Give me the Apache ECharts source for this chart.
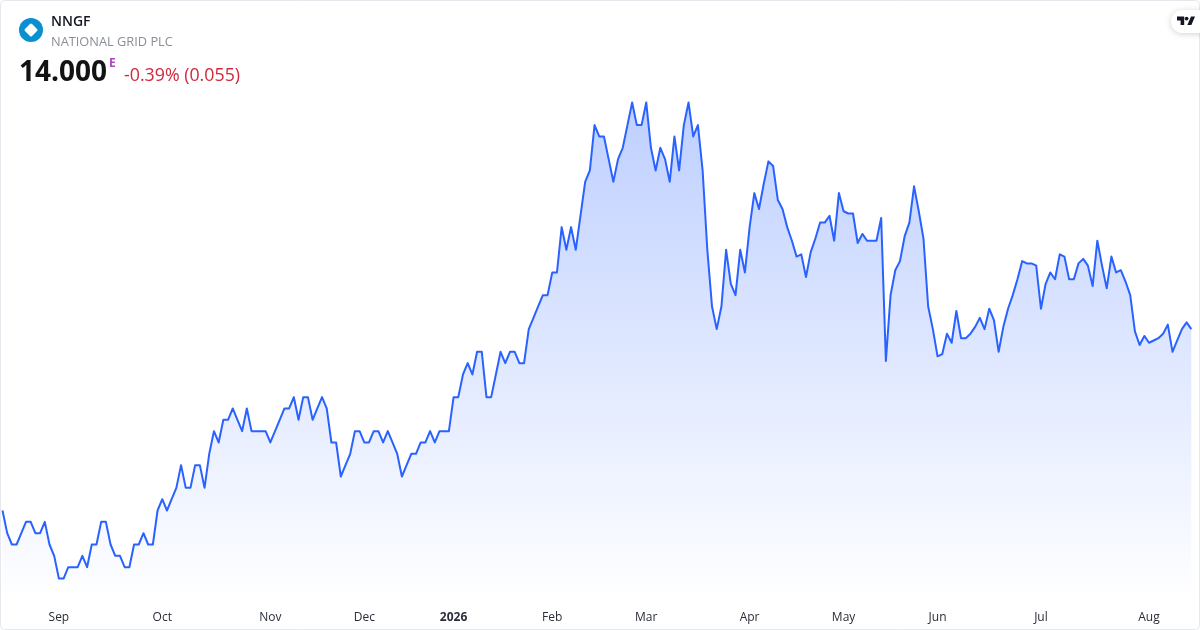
<!DOCTYPE html>
<html>
<head>
<meta charset="utf-8">
<style>html,body{margin:0;padding:0;background:#fff}#c{width:1200px;height:630px}</style>
<script src="https://cdn.jsdelivr.net/npm/echarts@6/dist/echarts.min.js"></script>
</head>
<body>
<div id="c"></div>
<script>
const prices1 = [13.20,13.10,13.05,13.05,13.10,13.15,13.15,13.10,13.10,13.15,13.05,13.00,12.90,12.90,12.95,12.95,12.95,13.00,12.95,13.05,13.05,13.15,13.15,13.05,13.00,13.00,12.95,12.95,13.05,13.05,13.10,13.05,13.05,13.20,13.25,13.20,13.25,13.30,13.40,13.30,13.30,13.40,13.40,13.30,13.45,13.55,13.50,13.60,13.60,13.65,13.60,13.55,13.65,13.55,13.55,13.55,13.55,13.50,13.55,13.60,13.65,13.65,13.70,13.60];
const prices2 = [13.70,13.70,13.60,13.65,13.70,13.65,13.50,13.50,13.35,13.40,13.45,13.55,13.55,13.50,13.50,13.55,13.55,13.50,13.55,13.50,13.45,13.35,13.40,13.45,13.45,13.50,13.50,13.55,13.50,13.55,13.55,13.55,13.70,13.70,13.80,13.85,13.80,13.90,13.90,13.70,13.70,13.80,13.90,13.85,13.90,13.90,13.85,13.85];
const prices3 = [14.00,14.05,14.10,14.15,14.15,14.25,14.25,14.45,14.35,14.45,14.35,14.50,14.65,14.70,14.90,14.85,14.85,14.75,14.65,14.75,14.80,14.90,15.00,14.90,14.90,15.00,14.80,14.70,14.80,14.75,14.65,14.85,14.70,14.90,15.00,14.85,14.90,14.70,14.35,14.10,14.00,14.10,14.35,14.20,14.15,14.35,14.25,14.45,14.60,14.53,14.64,14.74,14.72,14.57,14.53,14.45,14.39,14.32];
const prices4 = [14.33,14.23,14.34,14.40,14.47,14.47,14.50,14.39,14.60,14.52,14.51,14.51,14.38,14.42,14.39,14.39,14.39,14.49,13.86,14.15,14.26,14.30,14.41,14.47,14.63,14.52,14.40,14.10,14.00,13.88,13.89,13.98,13.94,14.08,13.96,13.96,13.98,14.01,14.05,14.00,14.09,14.04];
const prices5 = [13.90,14.01,14.09,14.15,14.22,14.30,14.29,14.29,14.28,14.09,14.20,14.25,14.22,14.33,14.32,14.22,14.22,14.29,14.31,14.28,14.19,14.39,14.28,14.18,14.32,14.25,14.26,14.21,14.15,13.99,13.93,13.97,13.94,13.95,13.96,13.98,14.02,13.90,13.95,14.00,14.03,14.00];
const prices = [...prices1, ...prices2, ...prices3, ...prices4, ...prices5];

const tickLabels = ['Sep','Oct','Nov','Dec','2026','Feb','Mar','Apr','May','Jun','Jul','Aug'];
const tickIndexes = [12,34,57,77,96,117,137,159,179,199,221,244];
const categories = prices.map((_, i) => {
  const k = tickIndexes.indexOf(i);
  return k >= 0 ? tickLabels[k] : 'd' + i;
});

const symbol = 'NNGF';
const company = 'NATIONAL GRID PLC';
const lastPrice = '14.000';
const marker = 'E';
const change = '-0.39% (0.055)';

const FONT = '"Open Sans","Noto Sans",sans-serif';
const chart = echarts.init(document.getElementById('c'), null, {renderer:'canvas'});
chart.setOption({
  animation:false,
  backgroundColor:'#ffffff',
  grid:{left:2.5,right:8.7,top:57.1,height:544.08,containLabel:false},
  xAxis:{
    type:'category',data:categories,boundaryGap:false,
    axisLine:{show:false},axisTick:{show:false},splitLine:{show:false},
    axisLabel:{
      show:true,margin:10.5,hideOverlap:false,
      interval:(i)=>tickIndexes.includes(i),
      color:'#2a2e39',fontFamily:FONT,fontSize:12,
      formatter:(v)=>v==='2026'?'{b|2026}':v,
      rich:{b:{fontWeight:'bold',fontSize:12,color:'#2a2e39',fontFamily:FONT}}
    }
  },
  yAxis:{type:'value',min:12.8,max:15.2,show:false,splitLine:{show:false}},
  series:[{
    type:'line',data:prices,symbol:'none',smooth:false,
    lineStyle:{color:'#2962FF',width:2,join:'round'},
    areaStyle:{opacity:1,color:new echarts.graphic.LinearGradient(0,0,0,1,[
      {offset:0,color:'rgba(41,98,255,0.3)'},
      {offset:1,color:'rgba(41,98,255,0)'}
    ])}
  }],
  graphic:[
    {type:'rect',silent:true,z:100,shape:{x:0.5,y:0.5,width:1199,height:629,r:4},style:{fill:'none',stroke:'#e6e8ee',lineWidth:1}},
    {type:'circle',z:100,shape:{cx:31,cy:30,r:12},style:{fill:'#0a8fd1'}},
    {type:'rect',z:101,x:31,y:30,rotation:Math.PI/4,shape:{x:-5,y:-5,width:10,height:10,r:1.5},style:{fill:'#ffffff'}},
    {type:'text',z:100,x:51,y:15,style:{text:symbol,font:'600 14px '+FONT,fill:'#131722'}},
    {type:'text',z:100,x:51,y:35.5,style:{text:company,font:'12.8px '+FONT,fill:'#8a8e98'}},
    {type:'text',z:100,x:19,y:59,style:{text:lastPrice,font:'bold 28px '+FONT,fill:'#131313'}},
    {type:'text',z:100,x:109,y:58,style:{text:marker,font:'bold 12px '+FONT,fill:'#ab47bc'}},
    {type:'text',z:100,x:124,y:67,style:{text:change,font:'17.8px '+FONT,fill:'#d0293b'}},
    {type:'rect',z:100,shape:{x:1171,y:10,width:40,height:23,r:11.5},style:{fill:'#ffffff',shadowBlur:6,shadowColor:'rgba(0,0,0,0.18)',shadowOffsetY:1}},
    {type:'polygon',z:101,shape:{points:[[1177,16.5],[1184.2,16.5],[1184.2,25],[1180.6,25],[1180.6,20.5],[1177,20.5]]},style:{fill:'#131722'}},
    {type:'circle',z:101,shape:{cx:1186.6,cy:18.6,r:1.9},style:{fill:'#131722'}},
    {type:'polygon',z:101,shape:{points:[[1191,16.5],[1195,16.5],[1191.4,25],[1187.3,25]]},style:{fill:'#131722'}}
  ]
});
</script>
</body>
</html>
